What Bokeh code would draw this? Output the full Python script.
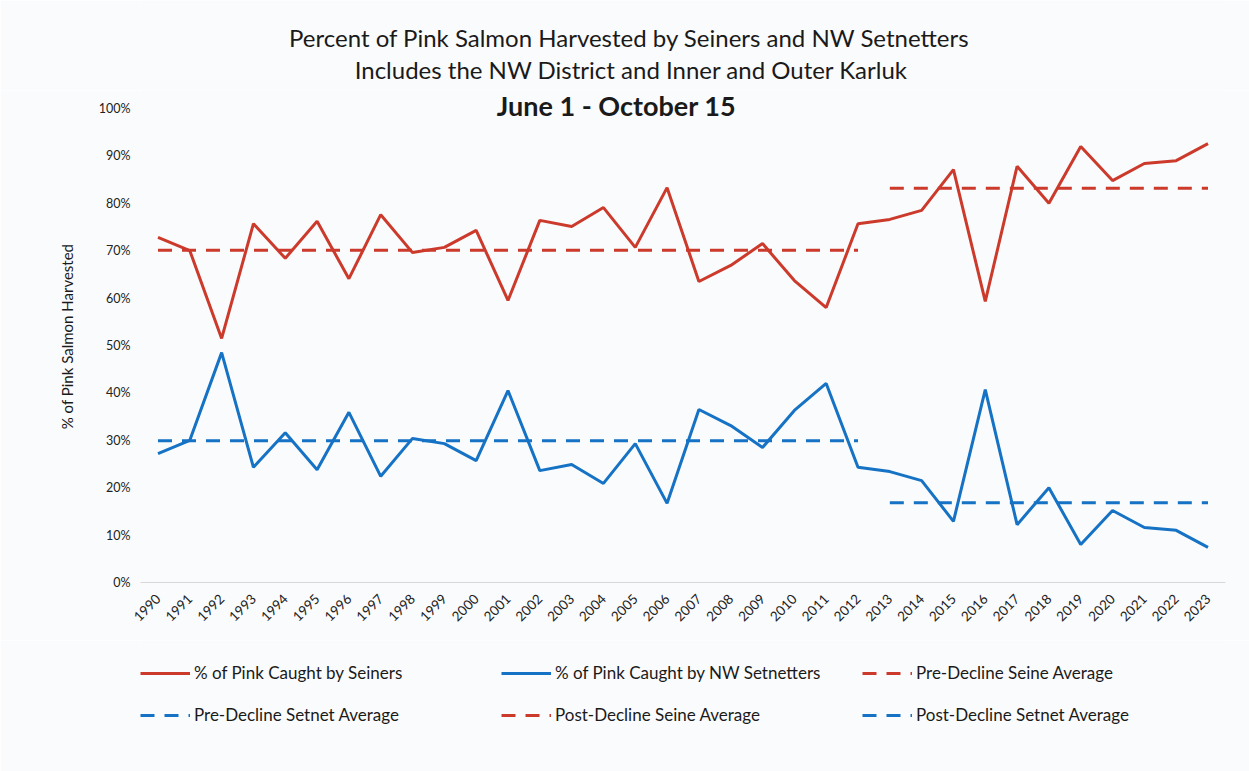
import math
from bokeh.plotting import figure
from bokeh.layouts import column
from bokeh.models import FixedTicker, Label, Legend, LegendItem, Range1d
from bokeh.embed import file_html
from bokeh.resources import INLINE

# ---------------- data ----------------
years = [1990, 1991, 1992, 1993, 1994, 1995, 1996, 1997, 1998, 1999,
         2000, 2001, 2002, 2003, 2004, 2005, 2006, 2007, 2008, 2009,
         2010, 2011, 2012, 2013, 2014, 2015, 2016, 2017, 2018, 2019,
         2020, 2021, 2022, 2023]
seiners = [72.8, 70.0, 51.5, 75.7, 68.4, 76.2, 64.1, 77.6, 69.6, 70.7,
           74.3, 59.5, 76.4, 75.1, 79.1, 70.7, 83.3, 63.5, 66.9, 71.5,
           63.7, 58.0, 75.7, 76.6, 78.5, 87.1, 59.3, 87.8, 80.0, 92.0,
           84.8, 88.4, 89.0, 92.6]
setnetters = [27.2, 30.0, 48.5, 24.3, 31.6, 23.8, 35.9, 22.4, 30.4, 29.3,
              25.7, 40.5, 23.6, 24.9, 20.9, 29.3, 16.7, 36.5, 33.1, 28.5,
              36.3, 42.0, 24.3, 23.4, 21.5, 12.9, 40.7, 12.2, 20.0, 8.0,
              15.2, 11.6, 11.0, 7.4]
pre_years = [1990, 2012]
post_years = [2013, 2023]
pre_seine_avg = [70.1, 70.1]
pre_setnet_avg = [29.9, 29.9]
post_seine_avg = [83.2, 83.2]
post_setnet_avg = [16.8, 16.8]
y_ticks = [0, 10, 20, 30, 40, 50, 60, 70, 80, 90, 100]
y_tick_labels = ["0%", "10%", "20%", "30%", "40%", "50%", "60%", "70%", "80%", "90%", "100%"]
year_labels = [str(y) for y in years]

title_1 = "Percent of Pink Salmon Harvested by Seiners and NW Setnetters"
title_2 = "Includes the NW District and Inner and Outer Karluk"
title_3 = "June 1 - October 15"
y_title = "% of Pink Salmon Harvested"
legend_labels = ["% of Pink Caught by Seiners", "% of Pink Caught by NW Setnetters",
                 "Pre-Decline Seine Average", "Pre-Decline Setnet Average",
                 "Post-Decline Seine Average", "Post-Decline Setnet Average"]

# ---------------- style ----------------
RED = "#CC3A2C"
BLUE = "#1572C4"
BG = "#FAFBFC"
TXT = "#1a1a1a"
FONT = "Lato"
W = 1249
H_HEAD, H_MAIN, H_FOOT = 90, 550, 131
ML, MR, MT, MB = 140, 24, 0, 58
DASH = "14 10"


def blank(height):
    f = figure(width=W, height=height, output_backend="svg", toolbar_location=None,
               x_axis_type=None, y_axis_type=None, x_range=Range1d(0, 1), y_range=Range1d(0, 1),
               min_border_left=ML, min_border_right=MR,
               min_border_top=0, min_border_bottom=0)
    f.background_fill_color = BG
    f.border_fill_color = BG
    f.outline_line_color = None
    f.grid.grid_line_color = None
    return f


# ---------------- header (two title lines) ----------------
head = blank(H_HEAD)
head.add_layout(Label(x=629 - ML, y=H_HEAD - 37, x_units="screen", y_units="screen", text=title_1,
                      text_font=FONT, text_font_size="24px", text_color=TXT,
                      text_align="center", text_baseline="middle"))
head.add_layout(Label(x=631 - ML, y=H_HEAD - 69, x_units="screen", y_units="screen", text=title_2,
                      text_font=FONT, text_font_size="24px", text_color=TXT,
                      text_align="center", text_baseline="middle"))

# ---------------- main chart ----------------
p = figure(width=W, height=H_MAIN, output_backend="svg", toolbar_location=None,
           x_range=Range1d(1989.45, 2023.55), y_range=Range1d(0, 103.8),
           min_border_left=ML, min_border_right=MR, min_border_top=MT, min_border_bottom=MB)
p.background_fill_color = BG
p.border_fill_color = BG
p.outline_line_color = None
p.grid.grid_line_color = None

p.yaxis.ticker = FixedTicker(ticks=y_ticks)
p.yaxis.major_label_overrides = {t: l for t, l in zip(y_ticks, y_tick_labels)}
p.yaxis.axis_line_color = None
p.yaxis.major_tick_line_color = None
p.yaxis.minor_tick_line_color = None
p.yaxis.major_label_text_font = FONT
p.yaxis.major_label_text_font_size = "12.5px"
p.yaxis.major_label_text_color = "#222222"
p.yaxis.major_label_standoff = 4
p.yaxis.axis_label = y_title
p.yaxis.axis_label_text_font = FONT
p.yaxis.axis_label_text_font_size = "15px"
p.yaxis.axis_label_text_font_style = "normal"
p.yaxis.axis_label_text_color = TXT
p.yaxis.axis_label_standoff = 20

p.xaxis.ticker = FixedTicker(ticks=years)
p.xaxis.major_label_overrides = {y: l for y, l in zip(years, year_labels)}
p.xaxis.axis_line_color = "#D8D8D8"
p.xaxis.axis_line_width = 1
p.xaxis.major_tick_line_color = None
p.xaxis.minor_tick_line_color = None
p.xaxis.major_label_orientation = math.pi / 4
p.xaxis.major_label_text_font = FONT
p.xaxis.major_label_text_font_size = "13.5px"
p.xaxis.major_label_text_color = "#222222"
p.xaxis.major_label_standoff = 8

p.line(years, seiners, line_color=RED, line_width=3)
p.line(years, setnetters, line_color=BLUE, line_width=3)
p.line(pre_years, pre_seine_avg, line_color=RED, line_width=3, line_dash=DASH)
p.line(pre_years, pre_setnet_avg, line_color=BLUE, line_width=3, line_dash=DASH)
p.line(post_years, post_seine_avg, line_color=RED, line_width=3, line_dash=DASH)
p.line(post_years, post_setnet_avg, line_color=BLUE, line_width=3, line_dash=DASH)

frame_h = H_MAIN - MT - MB
p.add_layout(Label(x=616 - ML, y=frame_h - (105 - H_HEAD), x_units="screen", y_units="screen",
                   text=title_3, text_font=FONT, text_font_size="27px", text_font_style="bold",
                   text_color=TXT, text_align="center", text_baseline="middle"))

# ---------------- footer (legend) ----------------
# the footer's ranges are (0, 1), so these copies of the series stay out of view;
# they only supply the legend's glyph styles
foot = blank(H_FOOT)
series = [(years, seiners, RED, "solid"), (years, setnetters, BLUE, "solid"),
          (pre_years, pre_seine_avg, RED, DASH), (pre_years, pre_setnet_avg, BLUE, DASH),
          (post_years, post_seine_avg, RED, DASH), (post_years, post_setnet_avg, BLUE, DASH)]
items = []
for lab, (xs, ys, col, dash) in zip(legend_labels, series):
    r = foot.line(xs, ys, line_color=col, line_width=3, line_dash=dash)
    items.append(LegendItem(label=lab, renderers=[r]))
legend = Legend(items=items, orientation="horizontal", ncols=3,
                location=(0, 46),
                label_text_font=FONT, label_text_font_size="17px", label_text_color=TXT,
                glyph_width=50, glyph_height=20, label_height=20, label_width=286,
                label_standoff=4, spacing=21, padding=0, margin=0,
                background_fill_alpha=0, border_line_color=None)
foot.add_layout(legend, "center")

layout = column(head, p, foot, spacing=0)
open("out.html", "w").write(file_html(layout, INLINE))
